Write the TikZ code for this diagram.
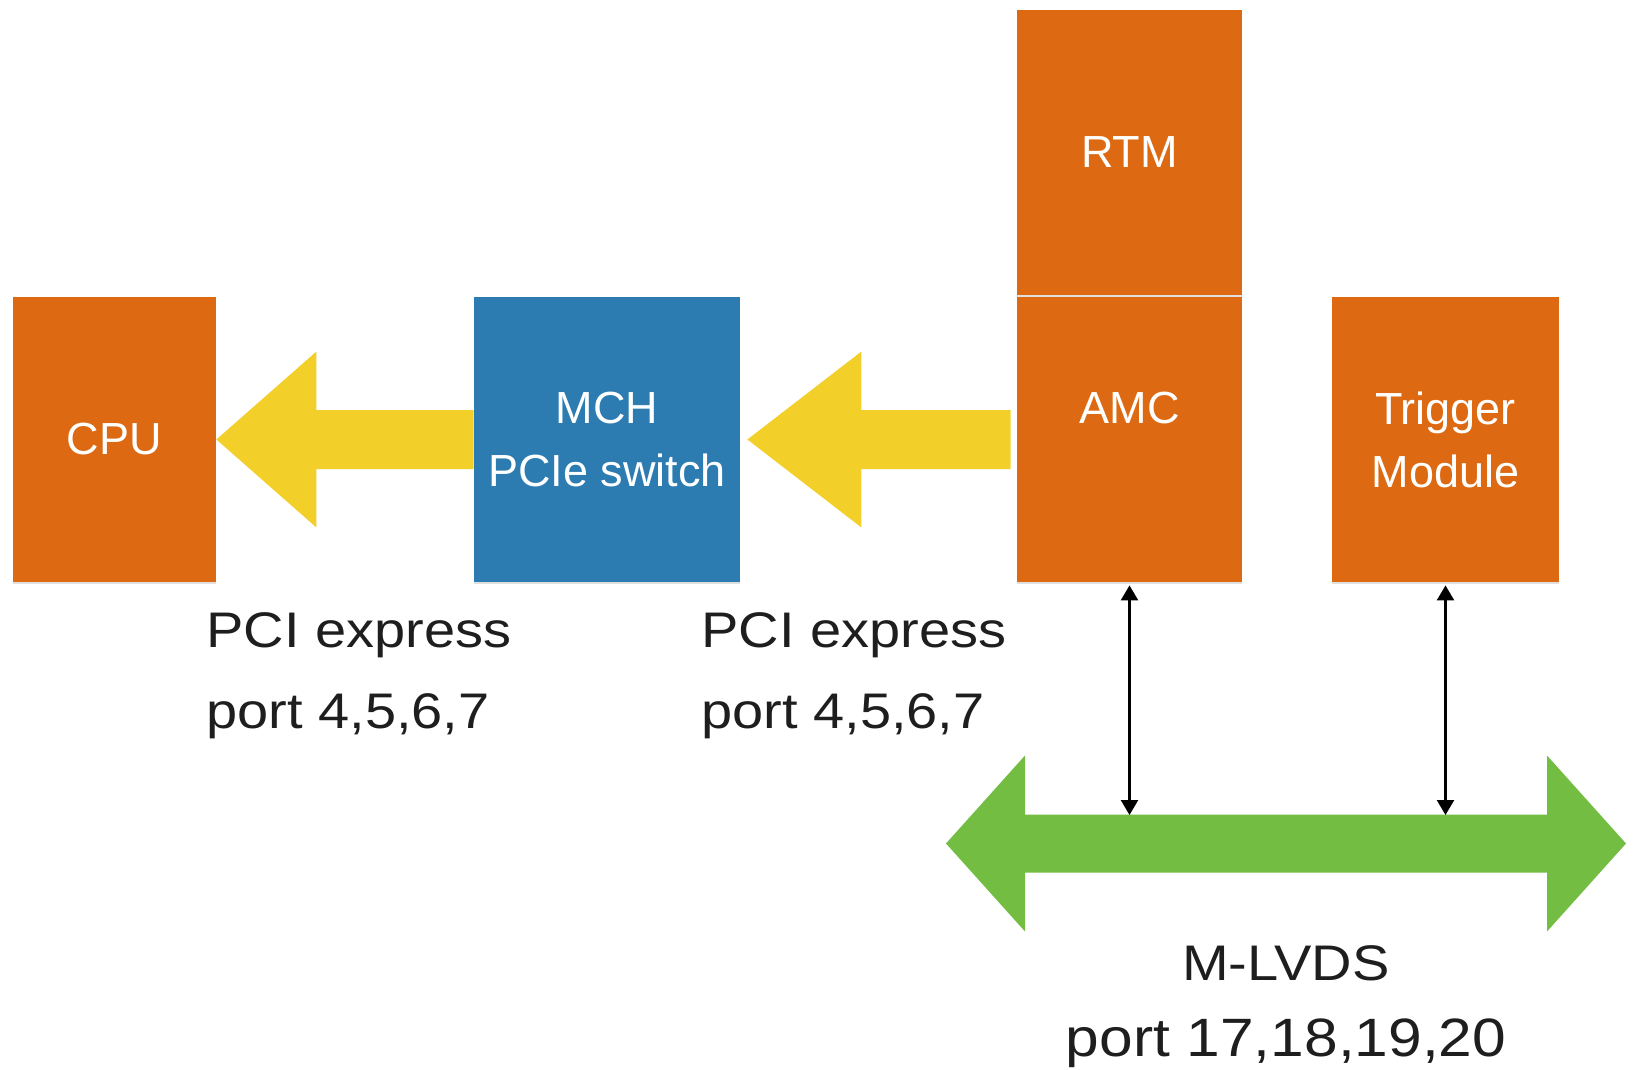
\documentclass[tikz,border=0pt]{standalone}
\usepackage{fontspec}
\setmainfont{Liberation Sans}
\newfontfamily\widesans[FakeStretch=1.12]{Liberation Sans}
\usetikzlibrary{arrows.meta,calc,shadows}

\definecolor{boxorange}{RGB}{221,106,18}
\definecolor{switchblue}{RGB}{44,124,178}
\definecolor{pcieyellow}{RGB}{243,207,42}
\definecolor{busgreen}{RGB}{114,189,66}
\definecolor{labeltext}{RGB}{30,30,30}

\begin{document}
\begin{tikzpicture}[x=0.5pt,y=-0.5pt,
  module/.style={fill=boxorange, text=white, inner sep=0pt, align=center,
    font=\fontsize{22.5}{31.5}\selectfont,
    drop shadow={shadow xshift=0pt, shadow yshift=-1.2pt, opacity=0.25}},
  switchbox/.style={module, fill=switchblue},
  note/.style={inner sep=0pt, text=labeltext,
    font=\widesans\fontsize{25}{40.5}\selectfont},
  pcie/.style={fill=pcieyellow},
  bus/.style={fill=busgreen},
  link/.style={line width=1.2pt,
    {Triangle[width=8.5pt,length=7.5pt]}-{Triangle[width=8.5pt,length=7.5pt]}}
]
\useasboundingbox (0,0) rectangle (1639,1070);

% boards
\node[module, minimum width=101.5pt, minimum height=142.5pt] (cpu) at (114.5,439.5) {CPU};
\node[switchbox, minimum width=133pt, minimum height=142.5pt] (mch) at (607,439.5) {MCH\\PCIe switch};
\node[module, minimum width=112.5pt, minimum height=142.5pt] (rtm) at (1129.5,152.5) {RTM};
\node[module, minimum width=112.5pt, minimum height=142.5pt] (amc) at (1129.5,439.5) {AMC\\\phantom{AMC}};
\node[module, minimum width=113.5pt, minimum height=142.5pt] (trig) at (1445.5,439.5) {Trigger\\Module};

% PCI express links (fat arrows towards the CPU)
\fill[pcie] (cpu.east) -- ++(100,-88) -- ++(0,58.5)
  -- ($(mch.west)+(0,-29.5)$) -- ++(0,59)
  -- ($(cpu.east)+(100,29.5)$) -- ++(0,58.5) -- cycle;
\coordinate (tip2) at ($(mch.east)+(7,0)$);
\fill[pcie] (tip2) -- ++(114,-88) -- ++(0,58.5)
  -- ($(amc.west)+(-6,-29.5)$) -- ++(0,59)
  -- ($(tip2)+(114,29.5)$) -- ++(0,58.5) -- cycle;

% M-LVDS bus
\coordinate (busL) at (946,843.5);
\coordinate (busR) at (1626,843.5);
\coordinate (busTop) at (1286,815);
\fill[bus] (busL) -- ++(79,-88) -- ++(0,59)
  -- ($(busR)+(-79,-29)$) -- ++(0,-59) -- (busR) -- ++(-79,88) -- ++(0,-59)
  -- ($(busL)+(79,29)$) -- ++(0,59) -- cycle;

\draw[link, shorten <=1.5pt] (amc.south) -- (amc.south |- busTop);
\draw[link, shorten <=1.5pt] (trig.south) -- (trig.south |- busTop);

% labels
\node[note, anchor=west, align=left] (pcieA) at (206,676) {PCI express\\port 4,5,6,7};
\node[note, anchor=west, align=left] (pcieB) at (701,676) {PCI express\\port 4,5,6,7};
\node[note, align=center, font=\widesans\fontsize{25}{38}\selectfont] (mlvds) at (1286,1007)
  {M-LVDS\\{\fontsize{27}{38}\selectfont port 17,18,19,20}};
\end{tikzpicture}
\end{document}
